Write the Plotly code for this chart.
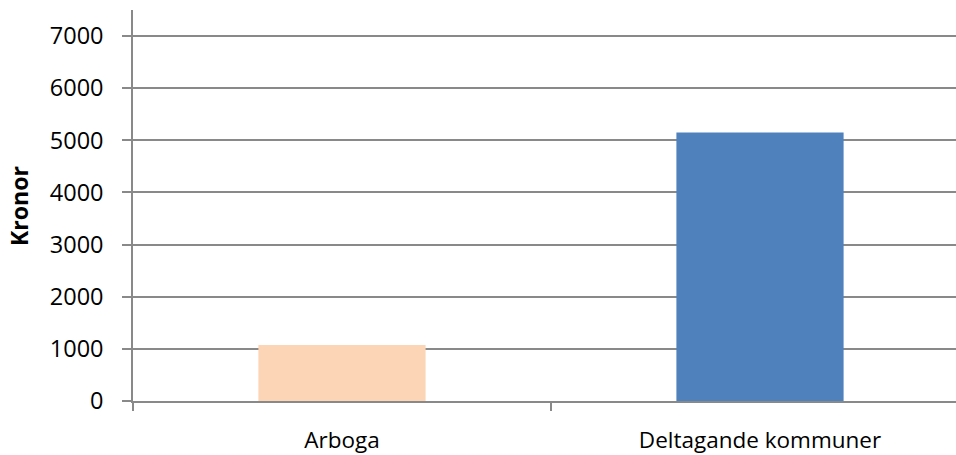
import plotly.graph_objects as go

categories = ["Arboga", "Deltagande kommuner"]
values = [1075, 5148]
bar_colors = ["#FBD5B5", "#4F81BD"]
y_ticks = [0, 1000, 2000, 3000, 4000, 5000, 6000, 7000]
y_title = "Kronor"

W, H = 956, 455
L, T, R = 133, 10, 0
B = H - 401
FONT = "Open Sans"
GRAY = "#898989"

fig = go.Figure(go.Bar(
    x=categories, y=values, marker=dict(color=bar_colors, line=dict(width=0)),
    width=0.40, hoverinfo="skip",
))

plot_w = W - L - R
plot_h = H - T - B
fig.update_layout(
    width=W, height=H,
    margin=dict(l=L, r=R, t=T, b=B, pad=0, autoexpand=False),
    paper_bgcolor="white", plot_bgcolor="white",
    font=dict(family=FONT, size=19, color="black"),
    showlegend=False,
    xaxis=dict(
        type="category", range=[-0.5, -0.5 + plot_w / 418.0],
        showline=True, linecolor=GRAY, linewidth=1.5,
        ticks="outside", ticklen=8, tickcolor=GRAY, tickwidth=1.5,
        tickson="boundaries", showgrid=False, automargin=False,
        ticklabelstandoff=18, tickfont=dict(size=22.5),
    ),
    yaxis=dict(
        range=[0, 7500], tickvals=y_ticks,
        showline=True, linecolor=GRAY, linewidth=1.5,
        ticks="outside", ticklen=9, tickcolor=GRAY, tickwidth=1.5,
        showgrid=True, gridcolor=GRAY, gridwidth=1.5, automargin=False,
        zeroline=False, ticklabelstandoff=14, tickfont=dict(size=23.5),
    ),
    annotations=[dict(
        text="<b>" + y_title + "</b>", textangle=-90,
        xref="paper", yref="paper",
        x=(18.4 - L) / plot_w, y=(401 - 205.5) / plot_h,
        showarrow=False, font=dict(family=FONT, size=23, color="black"),
        xanchor="center", yanchor="middle",
    )],
)

fig.write_html(
    "out.html",
    config={"displayModeBar": False},
    post_script="document.body.style.margin='0';document.body.style.overflow='hidden';",
)
